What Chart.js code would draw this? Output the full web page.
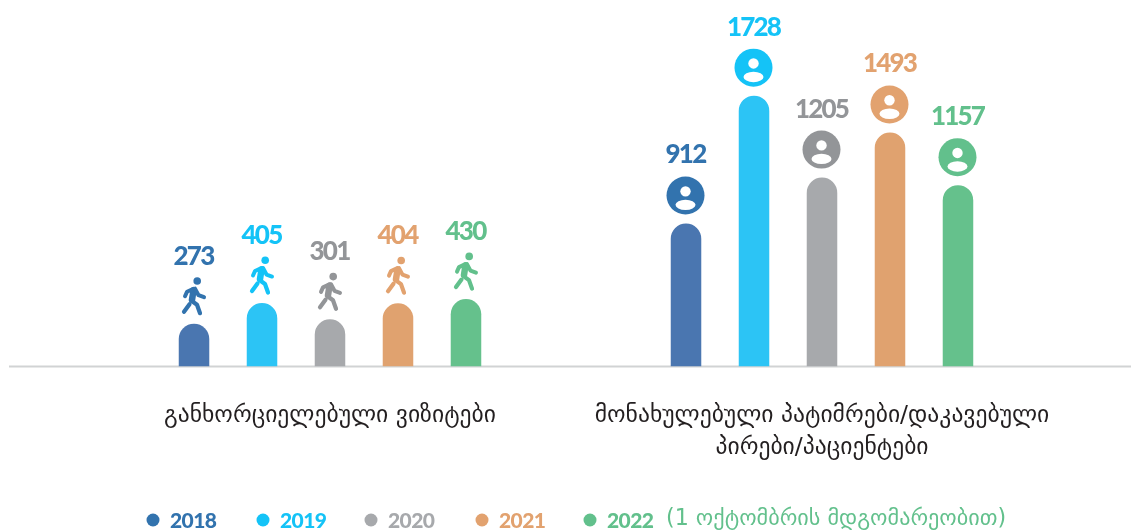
<!DOCTYPE html>
<html><head><meta charset="utf-8">
<style>html,body{margin:0;padding:0;background:#fff}#w{width:1131px;height:531px;position:relative}</style>
<script src="https://cdn.jsdelivr.net/npm/chart.js@4"></script>
</head><body><div id="w"><canvas id="c" width="1131" height="531"></canvas></div>
<script>
const categories = [["განხორციელებული ვიზიტები"], ["მონახულებული პატიმრები/დაკავებული", "პირები/პაციენტები"]];
const years = ["2018", "2019", "2020", "2021", "2022"];
const values2018 = [273, 912];
const values2019 = [405, 1728];
const values2020 = [301, 1205];
const values2021 = [404, 1493];
const values2022 = [430, 1157];
const legendNote = "(1 ოქტომბრის მდგომარეობით)";
const barColors = ["#4a76b0", "#2cc4f5", "#a7a9ac", "#e0a26f", "#65c18c"];
const markColors = ["#3273ae", "#14c3f7", "#939598", "#e2a26f", "#62c08c"];
const legendTextColors = ["#3273ae", "#14c3f7", "#a7a9ac", "#e2a26f", "#62c08c"];
const legendDotX = [153, 263, 371, 482, 590];
const seriesValues = [values2018, values2019, values2020, values2021, values2022];
const GEO = '"DejaVu Sans"';

function drawWalker(ctx, x, y, col) {
  ctx.save();
  ctx.translate(x, y);
  ctx.strokeStyle = col; ctx.fillStyle = col;
  ctx.lineCap = 'round'; ctx.lineJoin = 'round';
  ctx.beginPath(); ctx.arc(3.2, -42.7, 3.8, 0, Math.PI * 2); ctx.fill();
  const line = (w, pts) => {
    ctx.lineWidth = w; ctx.beginPath();
    pts.forEach((p, i) => i ? ctx.lineTo(p[0], p[1]) : ctx.moveTo(p[0], p[1]));
    ctx.stroke();
  };
  line(6.5, [[-0.5, -33.5], [-2, -24]]);
  line(4.2, [[-2.5, -23], [3, -19], [6, -10.5]]);
  line(4.2, [[-4.5, -19.5], [-10, -12]]);
  line(4, [[-9, -27.5], [-7, -32], [-0.5, -35]]);
  line(4, [[1, -35], [4.5, -28.5], [10, -26.5]]);
  ctx.restore();
}
function drawPerson(ctx, x, y, col) {
  ctx.save();
  ctx.translate(x, y);
  ctx.fillStyle = col;
  ctx.beginPath(); ctx.arc(0, 0, 19, 0, Math.PI * 2); ctx.fill();
  ctx.fillStyle = '#fff';
  ctx.beginPath(); ctx.arc(0, -4.2, 5.2, 0, Math.PI * 2); ctx.fill();
  ctx.beginPath(); ctx.ellipse(0, 9.3, 10, 5.2, 0, 0, Math.PI * 2); ctx.fill();
  ctx.restore();
}

const decor = {
  id: 'decor',
  beforeDatasetsDraw(chart) {
    const ctx = chart.ctx, b = chart.chartArea.bottom;
    ctx.save();
    ctx.strokeStyle = '#d1d3d4'; ctx.lineWidth = 2;
    ctx.beginPath(); ctx.moveTo(9, b); ctx.lineTo(1131, b); ctx.stroke();
    ctx.restore();
  },
  afterDatasetsDraw(chart) {
    const ctx = chart.ctx;
    ctx.save();
    chart.data.datasets.forEach((ds, di) => {
      chart.getDatasetMeta(di).data.forEach((bar, ci) => {
        const col = markColors[di];
        if (ci === 0) drawWalker(ctx, bar.x, bar.y, col);
        else drawPerson(ctx, bar.x - 0.5, bar.y - 28, col);
        ctx.fillStyle = col;
        ctx.font = '900 26px Lato';
        ctx.letterSpacing = '-1.8px';
        ctx.textAlign = 'center'; ctx.textBaseline = 'middle';
        ctx.fillText(String(ds.data[ci]), bar.x - 0.5, bar.y - (ci === 0 ? 67.5 : 68.5));
      });
    });
    // legend
    const ly = 521;
    ctx.textBaseline = 'middle'; ctx.textAlign = 'left';
    years.forEach((yr, i) => {
      ctx.fillStyle = legendTextColors[i];
      ctx.beginPath(); ctx.arc(legendDotX[i], ly - 1, 6.5, 0, Math.PI * 2); ctx.fill();
      ctx.font = '900 21px Lato';
      ctx.letterSpacing = '-0.6px';
      ctx.fillText(yr, legendDotX[i] + 17, ly);
    });
    ctx.fillStyle = markColors[4];
    ctx.font = '22.2px ' + GEO;
    ctx.letterSpacing = '0px';
    ctx.fillText(legendNote, 666, ly - 2);
    ctx.restore();
  }
};

new Chart(document.getElementById('c'), {
  type: 'bar',
  data: {
    labels: categories,
    datasets: years.map((y, i) => ({
      label: y, data: seriesValues[i], backgroundColor: barColors[i],
      borderRadius: { topLeft: 15.5, topRight: 15.5, bottomLeft: 0, bottomRight: 0 },
      borderSkipped: 'bottom',
      categoryPercentage: 0.691, barPercentage: 0.449
    }))
  },
  options: {
    responsive: false, animation: false,
    layout: { padding: { left: 84, right: 63, top: 53, bottom: 0 } },
    plugins: { legend: { display: false }, tooltip: { enabled: false } },
    scales: {
      x: {
        grid: { display: false }, border: { display: false },
        afterFit(s) { s.height = 164.5; },
        ticks: { color: '#231f20', font: { family: GEO, size: 23.6, lineHeight: 1.36 }, padding: 25, maxRotation: 0, autoSkip: false }
      },
      y: { display: false, min: 0, max: 2000 }
    }
  },
  plugins: [decor]
});
</script></body></html>
